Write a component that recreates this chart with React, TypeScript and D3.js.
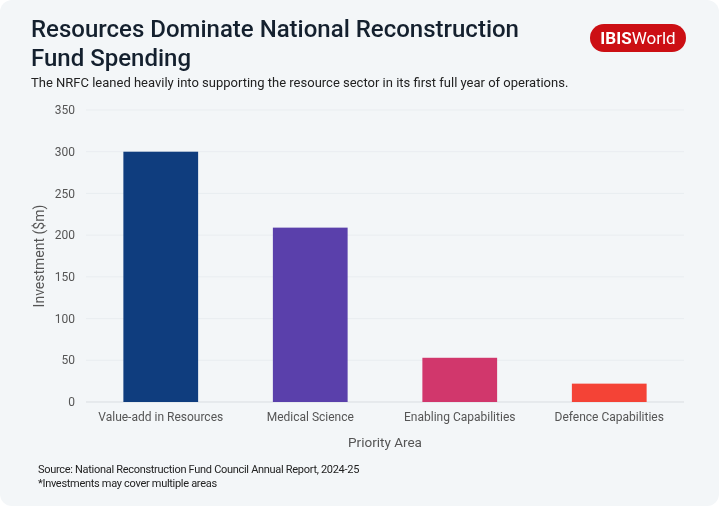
import { useRef, useEffect } from "react";
import * as d3 from "d3";

const categories = [
  "Value-add in Resources",
  "Medical Science",
  "Enabling Capabilities",
  "Defence Capabilities",
];
const investment = [300, 209, 53, 22];
const barColors = ["#0f3d7e", "#5a40ab", "#d1376c", "#f44336"];
const yTicks = [0, 50, 100, 150, 200, 250, 300, 350];

const width = 719;
const height = 506;
const margin = { top: 110, right: 35, bottom: 104, left: 86 };
const font = "Roboto, 'Noto Sans', sans-serif";

const App = () => {
  const svgRef = useRef<SVGSVGElement>(null);

  useEffect(() => {
    const svg = d3.select(svgRef.current);
    svg.selectAll("*").remove();

    svg
      .append("rect")
      .attr("width", width)
      .attr("height", height)
      .attr("rx", 12)
      .attr("fill", "#f3f6f8");

    // title block
    const title = svg
      .append("text")
      .attr("x", 31)
      .attr("font-family", font)
      .attr("font-size", 24)
      .attr("font-weight", 500)
      .attr("fill", "#14202e");
    title.append("tspan").attr("x", 31).attr("y", 37).text("Resources Dominate National Reconstruction");
    title.append("tspan").attr("x", 31).attr("y", 66).text("Fund Spending");

    svg
      .append("text")
      .attr("x", 31)
      .attr("y", 87)
      .attr("font-family", font)
      .attr("font-size", 13)
      .attr("fill", "#222")
      .text("The NRFC leaned heavily into supporting the resource sector in its first full year of operations.");

    // logo
    svg
      .append("rect")
      .attr("x", 590)
      .attr("y", 24)
      .attr("width", 96)
      .attr("height", 28)
      .attr("rx", 14)
      .attr("fill", "#cc0f14");
    const logo = svg
      .append("text")
      .attr("x", 638)
      .attr("y", 44)
      .attr("text-anchor", "middle")
      .attr("font-family", font)
      .attr("font-size", 17)
      .attr("fill", "#fff");
    logo.append("tspan").attr("font-weight", 700).text("IBIS");
    logo.append("tspan").attr("font-weight", 400).text("World");

    const x = d3
      .scaleBand()
      .domain(categories)
      .range([margin.left, width - margin.right])
      .paddingInner(0.5)
      .paddingOuter(0.25);

    const y = d3
      .scaleLinear()
      .domain([0, 350])
      .range([height - margin.bottom, margin.top]);

    // grid
    svg
      .append("g")
      .selectAll("line")
      .data(yTicks)
      .enter()
      .append("line")
      .attr("x1", margin.left)
      .attr("x2", width - margin.right)
      .attr("y1", (d) => y(d))
      .attr("y2", (d) => y(d))
      .attr("stroke", (d) => (d === 0 ? "#d9dde1" : "#e9edf0"))
      .attr("stroke-width", 1);

    svg
      .append("g")
      .selectAll("text")
      .data(yTicks)
      .enter()
      .append("text")
      .attr("x", 75)
      .attr("y", (d) => y(d))
      .attr("dy", "0.35em")
      .attr("text-anchor", "end")
      .attr("font-family", font)
      .attr("font-size", 12)
      .attr("fill", "#555")
      .text((d) => d);

    svg
      .append("g")
      .selectAll("rect")
      .data(investment)
      .enter()
      .append("rect")
      .attr("x", (_d, i) => x(categories[i])!)
      .attr("y", (d) => y(d))
      .attr("width", x.bandwidth())
      .attr("height", (d) => y(0) - y(d))
      .attr("fill", (_d, i) => barColors[i]);

    svg
      .append("g")
      .selectAll("text")
      .data(categories)
      .enter()
      .append("text")
      .attr("x", (d) => x(d)! + x.bandwidth() / 2)
      .attr("y", 421)
      .attr("text-anchor", "middle")
      .attr("font-family", font)
      .attr("font-size", 12)
      .attr("fill", "#555")
      .text((d) => d);

    svg
      .append("text")
      .attr("x", (margin.left + width - margin.right) / 2)
      .attr("y", 447)
      .attr("text-anchor", "middle")
      .attr("font-family", font)
      .attr("font-size", 13.5)
      .attr("fill", "#555")
      .text("Priority Area");

    svg
      .append("text")
      .attr("transform", `translate(44,${(y(0) + y(350)) / 2}) rotate(-90)`)
      .attr("text-anchor", "middle")
      .attr("font-family", font)
      .attr("font-size", 14)
      .attr("fill", "#555")
      .text("Investment ($m)");

    // footnotes
    svg
      .append("text")
      .attr("x", 38)
      .attr("y", 473)
      .attr("font-family", font)
      .attr("font-size", 11)
      .attr("letter-spacing", -0.3)
      .attr("fill", "#222")
      .text("Source: National Reconstruction Fund Council Annual Report, 2024-25");
    svg
      .append("text")
      .attr("x", 38)
      .attr("y", 487)
      .attr("font-family", font)
      .attr("font-size", 11)
      .attr("letter-spacing", -0.3)
      .attr("fill", "#222")
      .text("*Investments may cover multiple areas");
  }, []);

  return (
    <svg
      ref={svgRef}
      width={width}
      height={height}
      style={{ position: "fixed", top: 0, left: 0, display: "block" }}
    ></svg>
  );
};

export default App;
